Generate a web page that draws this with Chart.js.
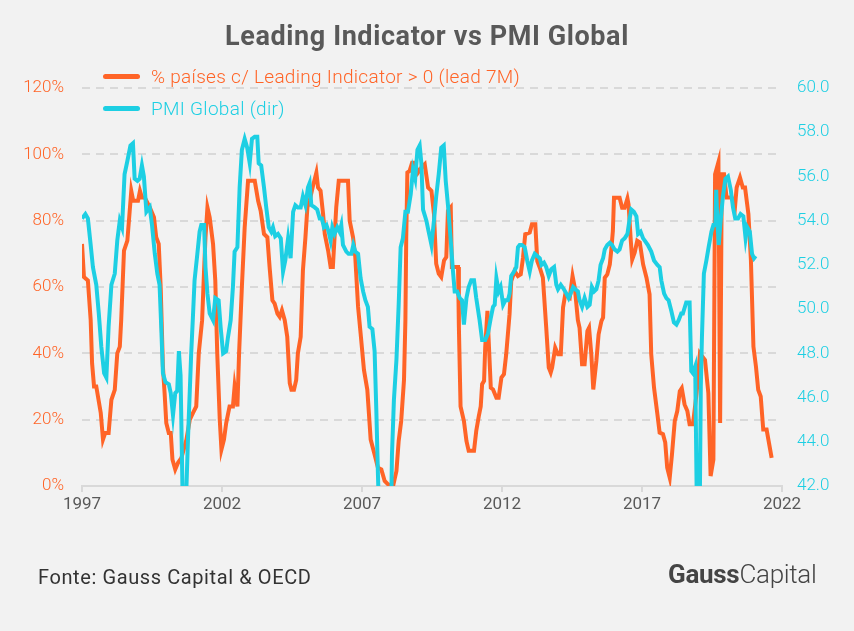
<!DOCTYPE html>
<html>
<head>
<meta charset="utf-8">
<script src="https://cdn.jsdelivr.net/npm/chart.js@4"></script>
<style>
  html, body { margin: 0; padding: 0; background: #f2f2f2; }
  #wrap { position: relative; width: 854px; height: 631px; background: #f2f2f2; font-family: Roboto, sans-serif; }
  #chart { position: absolute; left: 0; top: 0; }
  #title { position: absolute; left: 0; width: 854px; top: 20px; text-align: center; font-size: 27px; font-weight: 700; color: #595959; letter-spacing: 0.6px; }
  .leg { position: absolute; left: 103px; font-size: 19px; font-weight: 300; white-space: nowrap; letter-spacing: 0.3px; }
  .leg span { display: inline-block; width: 37px; height: 5px; border-radius: 3px; vertical-align: middle; margin-right: 11px; position: relative; top: -1px; }
  #fonte { position: absolute; left: 38px; top: 565px; font-size: 20px; color: #333; letter-spacing: 0.6px; }
  #logo { position: absolute; left: 668px; top: 559px; font-size: 26px; color: #444; letter-spacing: -0.3px; }
  #logo b { font-weight: 700; }
  #logo i { font-style: normal; font-weight: 300; }
</style>
</head>
<body>
<div id="wrap">
  <canvas id="chart" width="854" height="631"></canvas>
  <div id="title">Leading Indicator vs PMI Global</div>
  <div class="leg" style="top:65px;color:#ff6427"><span style="background:#ff6427"></span>% países c/ Leading Indicator &gt; 0 (lead 7M)</div>
  <div class="leg" style="top:97px;color:#1dcfe3"><span style="background:#1dcfe3"></span>PMI Global (dir)</div>
  <div id="fonte">Fonte: Gauss Capital &amp; OECD</div>
  <div id="logo"><b>Gauss</b><i>Capital</i></div>
</div>
<script>
// % de países com leading indicator > 0, deslocado 7 meses (eixo esquerdo)
const leadYears = [1997.00,1997.07,1997.21,1997.31,1997.36,1997.43,1997.51,1997.67,1997.75,1997.83,1997.95,
  1998.05,1998.17,1998.26,1998.35,1998.40,1998.50,1998.62,1998.76,1998.83,1999.00,1999.07,1999.14,1999.24,
  1999.42,1999.57,1999.65,1999.74,1999.81,1999.89,1999.95,2000.01,2000.10,2000.17,2000.23,2000.33,2000.43,
  2000.55,2000.73,2000.85,2000.96,2001.08,2001.17,2001.29,2001.36,2001.41,2001.48,2001.56,2001.68,2001.76,
  2001.83,2001.92,2001.98,2002.07,2002.15,2002.27,2002.39,2002.45,2002.55,2002.61,2002.71,2002.81,2002.93,
  2003.17,2003.29,2003.38,2003.50,2003.62,2003.70,2003.80,2003.88,2003.98,2004.06,2004.14,2004.24,2004.33,
  2004.42,2004.48,2004.57,2004.65,2004.71,2004.81,2004.89,2004.98,2005.05,2005.13,2005.25,2005.37,2005.43,
  2005.52,2005.61,2005.67,2005.79,2005.88,2005.96,2006.02,2006.08,2006.17,2006.50,2006.56,2006.68,2006.76,
  2006.86,2006.95,2007.07,2007.19,2007.31,2007.45,2007.57,2007.69,2007.81,2007.93,2008.11,2008.23,2008.31,
  2008.40,2008.50,2008.55,2008.58,2008.62,2008.70,2008.79,2008.88,2009.00,2009.12,2009.24,2009.36,2009.48,
  2009.57,2009.65,2009.74,2009.83,2009.93,2010.01,2010.07,2010.17,2010.21,2010.43,2010.46,2010.52,2010.64,
  2010.73,2010.81,2011.00,2011.08,2011.17,2011.24,2011.29,2011.36,2011.40,2011.48,2011.52,2011.60,2011.68,
  2011.80,2011.88,2011.98,2012.07,2012.15,2012.27,2012.33,2012.45,2012.57,2012.67,2012.75,2012.83,2012.99,
  2013.07,2013.19,2013.26,2013.35,2013.46,2013.58,2013.67,2013.74,2013.79,2013.90,2014.00,2014.10,2014.18,
  2014.26,2014.42,2014.52,2014.60,2014.71,2014.77,2014.86,2014.95,2015.05,2015.11,2015.19,2015.26,2015.37,
  2015.45,2015.55,2015.61,2015.67,2015.76,2015.85,2015.90,2015.96,2016.00,2016.20,2016.29,2016.38,2016.48,
  2016.52,2016.60,2016.65,2016.74,2016.83,2016.92,2017.04,2017.16,2017.27,2017.33,2017.43,2017.55,2017.63,
  2017.75,2017.83,2017.90,2017.99,2018.07,2018.17,2018.26,2018.35,2018.42,2018.52,2018.62,2018.70,2018.82,
  2018.95,2019.07,2019.25,2019.37,2019.45,2019.55,2019.61,2019.73,2019.79,2019.85,2019.93,2020.02,2020.20,
  2020.32,2020.38,2020.50,2020.60,2020.68,2020.80,2020.89,2020.98,2021.07,2021.15,2021.24,2021.33,2021.45,
  2021.63];
const leadValues = [73,63,62,50,37,30,30,22,14,16,16,
  26,29,40,42,50,71,74,89,86,86,89,87,87,
  84,81,75,73,60,36,28,19,16,16,8,5,7,
  8.5,14,20,22,24,40,50,65,75,84,81,73,62,
  40,20,11,14,19,24,24,30,24,40,60,78,92,
  92,86,83,76,75,66,56,55,52,51,53,50,45,
  31,29,29,32,40,45,65,75,84,86,90.5,94.5,90,
  89,82,76,71,66,66,75,84,92,92,80,75,69,
  54,46,35,29,14,9.5,5.5,5,1.5,0.5,0,4.5,13.6,
  19.6,32,50,75,94.5,95,97.5,97.5,94.5,96,97,90,89,
  82,67,64,63,68,69,83,84,66,66,48,24,19.6,
  13.6,10.6,10.6,16.6,21,24,30.7,31.7,41.7,52.8,44.7,29.6,29.1,
  26.6,26.6,32.7,33.7,39.7,51.8,61.8,64.8,63.3,63.8,68.8,75.9,76.4,
  78.9,78.9,67.8,65.8,62.8,47.7,35.7,34.2,35.7,41.7,39.7,39.7,53.8,
  57.8,56.8,63.3,59.8,50,47.7,36.7,36.7,46.7,47.7,39.7,29.1,37.7,
  45.7,49.7,50.8,62.8,63.8,66.8,70.9,76.9,86.9,86.9,83.9,83.9,86.7,
  84.9,73.9,68.3,70.4,73.9,73.4,66.8,62.8,57.8,39.7,29.6,21.6,16.1,
  15.6,13.1,5.5,2.5,9.5,19.6,22.6,28.6,29.5,24.6,22.6,18.6,18.6,
  28,40,38,28,3,8,94,97.7,19,94,94,87,87,
  84,90,93,90,90,82,68,42,36,29,27,17,17,
  8.5];

// PMI global (eixo direito)
const pmiYears = [1997.00,1997.12,1997.21,1997.31,1997.39,1997.51,1997.60,1997.69,1997.79,1997.87,1997.95,
  1998.05,1998.17,1998.26,1998.35,1998.43,1998.52,1998.62,1998.73,1998.82,1998.88,1998.98,1999.06,1999.14,
  1999.21,1999.30,1999.42,1999.50,1999.60,1999.69,1999.77,1999.83,1999.89,1999.98,2000.10,2000.17,2000.25,
  2000.33,2000.40,2000.46,2000.52,2000.60,2000.68,2000.79,2000.90,2000.96,2001.02,2001.12,2001.20,2001.26,
  2001.36,2001.41,2001.48,2001.56,2001.68,2001.76,2001.88,2001.95,2002.04,2002.15,2002.21,2002.31,2002.39,
  2002.45,2002.55,2002.63,2002.71,2002.81,2002.90,2002.99,2003.07,2003.17,2003.26,2003.31,2003.40,2003.50,
  2003.58,2003.67,2003.76,2003.82,2003.90,2004.00,2004.10,2004.18,2004.26,2004.36,2004.45,2004.54,2004.62,
  2004.71,2004.81,2004.89,2004.98,2005.07,2005.13,2005.19,2005.31,2005.40,2005.49,2005.57,2005.64,2005.73,
  2005.81,2005.88,2005.94,2006.02,2006.12,2006.20,2006.26,2006.32,2006.44,2006.52,2006.62,2006.69,2006.76,
  2006.86,2006.95,2007.04,2007.12,2007.21,2007.27,2007.37,2007.45,2007.51,2007.57,2007.65,2007.75,2007.85,
  2007.95,2008.03,2008.07,2008.14,2008.23,2008.31,2008.38,2008.46,2008.55,2008.64,2008.74,2008.82,2008.90,
  2008.98,2009.06,2009.12,2009.18,2009.30,2009.38,2009.48,2009.57,2009.65,2009.74,2009.83,2009.92,2009.99,
  2010.07,2010.17,2010.25,2010.31,2010.40,2010.49,2010.57,2010.64,2010.73,2010.81,2010.90,2011.00,2011.08,
  2011.20,2011.29,2011.40,2011.50,2011.60,2011.68,2011.74,2011.80,2011.88,2011.95,2012.04,2012.12,2012.21,
  2012.27,2012.33,2012.43,2012.51,2012.57,2012.63,2012.71,2012.81,2012.90,2012.99,2013.07,2013.17,2013.26,
  2013.35,2013.41,2013.50,2013.58,2013.67,2013.76,2013.86,2013.94,2014.00,2014.10,2014.21,2014.30,2014.38,
  2014.45,2014.54,2014.62,2014.71,2014.77,2014.86,2014.95,2015.05,2015.13,2015.21,2015.29,2015.37,2015.45,
  2015.52,2015.61,2015.67,2015.76,2015.85,2015.93,2016.02,2016.12,2016.20,2016.29,2016.38,2016.48,2016.56,
  2016.62,2016.71,2016.80,2016.86,2016.95,2017.04,2017.10,2017.21,2017.33,2017.43,2017.55,2017.63,2017.69,
  2017.79,2017.87,2017.95,2018.05,2018.14,2018.23,2018.31,2018.40,2018.46,2018.58,2018.70,2018.76,2018.82,
  2018.90,2018.95,2019.00,2019.05,2019.10,2019.14,2019.21,2019.30,2019.38,2019.48,2019.55,2019.62,2019.65,
  2019.69,2019.74,2019.81,2019.89,2019.98,2020.07,2020.17,2020.25,2020.33,2020.43,2020.52,2020.62,2020.70,
  2020.76,2020.85,2020.93,2021.00,2021.06];
const pmiValues = [54.1,54.3,54.1,52.9,51.9,51.1,49.8,48.3,47.1,46.9,49.2,
  51.1,51.6,53.1,54.0,53.7,56.1,56.7,57.4,57.5,55.9,55.8,55.9,56.5,
  56.0,54.4,54.6,53.8,52.5,51.6,51.1,49.2,47.1,46.7,46.6,46.2,45.2,
  46.2,46.3,48.1,47.0,41.0,40.0,44.3,48.0,49.6,51.3,52.5,53.5,53.8,
  53.8,51.9,50.7,49.8,49.5,50.5,50.4,49.2,48.0,48.1,48.7,49.5,51.0,
  52.6,52.8,55.5,57.2,57.7,57.3,56.6,57.7,57.8,57.8,56.6,56.5,55.5,
  54.6,53.7,53.5,53.7,53.3,53.4,53.2,51.7,52.2,53.2,52.3,54.4,54.7,
  54.6,54.6,55.1,54.7,55.5,55.7,54.7,54.6,54.5,54.1,54.1,53.7,53.8,
  53.5,53.1,53.7,53.4,53.7,53.5,53.8,52.9,52.6,52.5,52.5,52.9,52.6,
  52.5,51.4,50.8,50.4,50.1,49.2,49.1,48.1,45.5,42.5,39.0,36.0,35.0,
  36.0,40.0,43.4,45.9,47.7,50.2,52.8,53.2,54.4,54.4,55.2,56.3,55.9,
  57.2,57.4,56.6,54.5,54.0,53.5,52.9,54.0,55.1,56.1,57.3,57.4,55.8,
  54.7,53.1,51.7,50.8,50.8,50.5,50.4,49.3,50.5,51.0,51.3,51.3,50.5,
  49.5,48.6,48.6,48.9,49.6,50.1,50.2,51.4,50.8,51.0,50.2,50.4,50.4,
  50.7,51.5,51.7,51.9,52.8,52.9,52.9,52.8,52.2,51.7,52.2,52.5,52.4,
  52.3,52.0,52.1,51.9,51.5,51.8,51.9,51.1,50.9,51.1,50.9,50.7,50.5,
  50.7,51.0,50.9,50.8,50.4,50.1,50.5,50.1,50.2,51.0,50.8,50.9,51.3,
  52.0,52.3,52.7,52.9,53.0,52.9,52.7,52.6,52.7,53.1,53.2,53.4,54.1,
  54.5,54.4,54.2,53.4,53.5,53.2,53.1,52.9,52.6,52.2,52.0,51.9,51.3,
  50.7,50.5,50.4,49.9,49.4,49.3,49.5,49.8,49.8,50.3,50.3,47.2,47.1,
  47.4,42.0,38.0,39.0,46.5,48.7,51.6,52.2,52.8,53.5,53.8,53.8,55.4,
  54.0,52.9,54.0,55.1,55.9,56.0,55.4,54.6,54.1,54.1,54.3,54.2,53.2,
  53.7,53.5,52.5,52.3,52.4];

const xTicks = [1997, 2002, 2007, 2012, 2017, 2022];
const leftTicks = [0, 20, 40, 60, 80, 100, 120];
const rightTicks = [42, 44, 46, 48, 50, 52, 54, 56, 58, 60];

const ORANGE = '#ff6427';
const CYAN = '#1dcfe3';
const GRID = '#d9d9d9';

const toPoints = (xs, ys) => xs.map((x, i) => ({ x: x, y: ys[i] }));

const ctx = document.getElementById('chart').getContext('2d');

new Chart(ctx, {
  type: 'line',
  data: {
    datasets: [{
      label: '% países c/ Leading Indicator > 0 (lead 7M)',
      data: toPoints(leadYears, leadValues),
      borderColor: ORANGE,
      borderWidth: 4,
      pointRadius: 0,
      tension: 0,
      yAxisID: 'y',
      order: 2
    }, {
      label: 'PMI Global (dir)',
      data: toPoints(pmiYears, pmiValues),
      borderColor: CYAN,
      borderWidth: 4,
      pointRadius: 0,
      tension: 0,
      yAxisID: 'y1',
      order: 1
    }]
  },
  options: {
    responsive: false,
    animation: false,
    layout: { padding: { top: 88, bottom: 105, left: 0, right: 0 } },
    plugins: {
      legend: { display: false },
      tooltip: { enabled: false }
    },
    scales: {
      x: {
        type: 'linear',
        min: 1997,
        max: 2022,
        afterFit: s => { s.height = 40; },
        afterBuildTicks: s => { s.ticks = xTicks.map(v => ({ value: v })); },
        ticks: {
          color: '#595959',
          font: { family: 'Roboto', size: 17 },
          padding: 3,
          maxRotation: 0,
          callback: v => String(v)
        },
        grid: { drawOnChartArea: false, drawTicks: true, tickLength: 6, color: GRID, lineWidth: 2 },
        border: { display: true, color: GRID, width: 2 }
      },
      y: {
        position: 'left',
        min: 0,
        max: 120,
        afterFit: s => { s.width = 82; },
        afterBuildTicks: s => { s.ticks = leftTicks.map(v => ({ value: v })); },
        ticks: {
          color: ORANGE,
          font: { family: 'Roboto', size: 17, weight: 300 },
          padding: 18,
          callback: v => v + '%'
        },
        grid: { color: ctx => ctx.tick && ctx.tick.value === 0 ? 'rgba(0,0,0,0)' : GRID, lineWidth: 2, drawTicks: false },
        border: { display: false, dash: [8, 6] }
      },
      y1: {
        position: 'right',
        min: 42,
        max: 60,
        afterFit: s => { s.width = 72; },
        afterBuildTicks: s => { s.ticks = rightTicks.map(v => ({ value: v })); },
        ticks: {
          color: CYAN,
          font: { family: 'Roboto', size: 17, weight: 300 },
          padding: 15,
          callback: v => v.toFixed(1)
        },
        grid: { drawOnChartArea: false, drawTicks: false },
        border: { display: false }
      }
    }
  }
});
</script>
</body>
</html>
